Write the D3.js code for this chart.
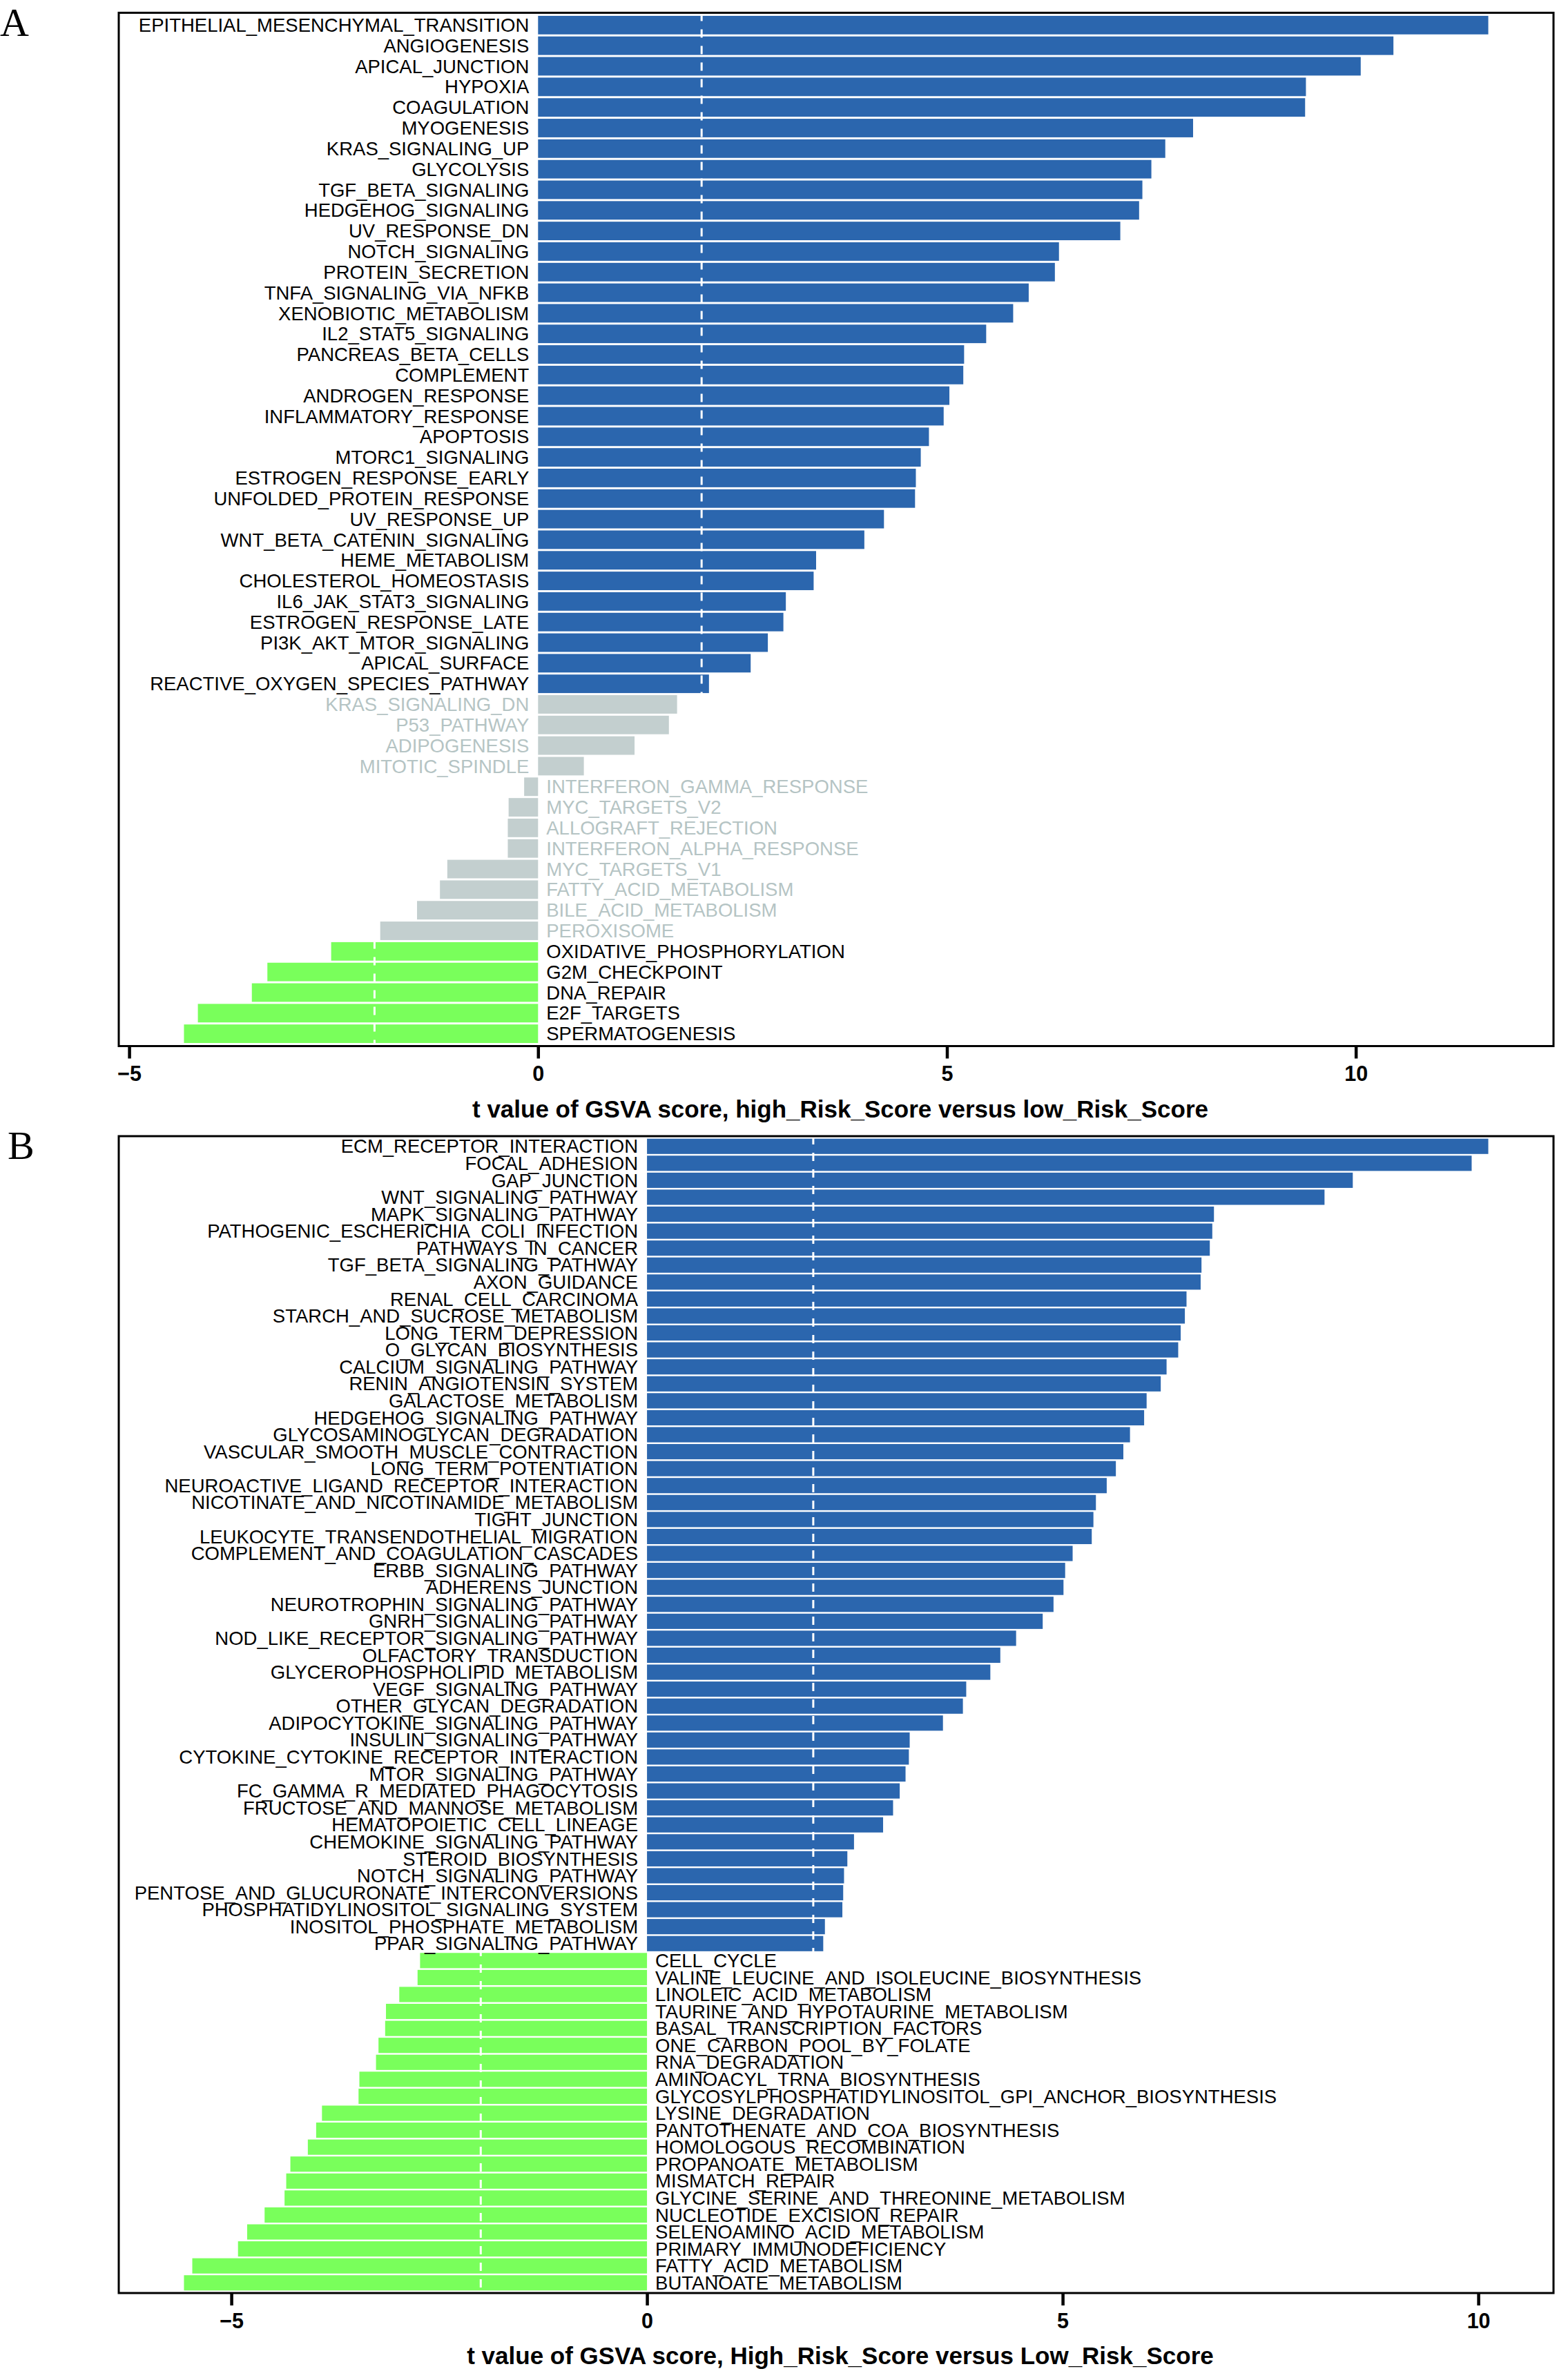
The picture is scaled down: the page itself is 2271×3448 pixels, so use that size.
<!DOCTYPE html>
<html>
<head>
<meta charset="utf-8">
<script src="https://cdn.jsdelivr.net/npm/d3@7"></script>
<style>
    body { margin: 0; background: #fff; }
    svg { display: block; }
</style>
</head>
<body>
<svg id="chart" width="2271" height="3448"></svg>
<script>
'use strict';

// ##################################################
// #                                                #
// #  Data                                          #
// #                                                #
// ##################################################

let hallmarkNames = [
    'EPITHELIAL_MESENCHYMAL_TRANSITION', 'ANGIOGENESIS', 'APICAL_JUNCTION', 'HYPOXIA',
    'COAGULATION', 'MYOGENESIS', 'KRAS_SIGNALING_UP', 'GLYCOLYSIS', 'TGF_BETA_SIGNALING',
    'HEDGEHOG_SIGNALING', 'UV_RESPONSE_DN', 'NOTCH_SIGNALING', 'PROTEIN_SECRETION',
    'TNFA_SIGNALING_VIA_NFKB', 'XENOBIOTIC_METABOLISM', 'IL2_STAT5_SIGNALING',
    'PANCREAS_BETA_CELLS', 'COMPLEMENT', 'ANDROGEN_RESPONSE', 'INFLAMMATORY_RESPONSE',
    'APOPTOSIS', 'MTORC1_SIGNALING', 'ESTROGEN_RESPONSE_EARLY', 'UNFOLDED_PROTEIN_RESPONSE',
    'UV_RESPONSE_UP', 'WNT_BETA_CATENIN_SIGNALING', 'HEME_METABOLISM', 'CHOLESTEROL_HOMEOSTASIS',
    'IL6_JAK_STAT3_SIGNALING', 'ESTROGEN_RESPONSE_LATE', 'PI3K_AKT_MTOR_SIGNALING',
    'APICAL_SURFACE', 'REACTIVE_OXYGEN_SPECIES_PATHWAY', 'KRAS_SIGNALING_DN', 'P53_PATHWAY',
    'ADIPOGENESIS', 'MITOTIC_SPINDLE', 'INTERFERON_GAMMA_RESPONSE', 'MYC_TARGETS_V2',
    'ALLOGRAFT_REJECTION', 'INTERFERON_ALPHA_RESPONSE', 'MYC_TARGETS_V1',
    'FATTY_ACID_METABOLISM', 'BILE_ACID_METABOLISM', 'PEROXISOME',
    'OXIDATIVE_PHOSPHORYLATION', 'G2M_CHECKPOINT', 'DNA_REPAIR', 'E2F_TARGETS',
    'SPERMATOGENESIS'
];

let hallmarkT = [
    11.62, 10.46, 10.06, 9.39, 9.38, 8.01, 7.67, 7.50, 7.39, 7.35,
    7.12, 6.37, 6.32, 6.00, 5.81, 5.48, 5.21, 5.20, 5.03, 4.96,
    4.78, 4.68, 4.62, 4.61, 4.23, 3.99, 3.40, 3.37, 3.03, 3.00,
    2.81, 2.60, 2.09, 1.70, 1.60, 1.18, 0.56, -0.17, -0.36, -0.37,
    -0.37, -1.11, -1.20, -1.48, -1.93, -2.53, -3.31, -3.50, -4.16, -4.33
];

let keggNames = [
    'ECM_RECEPTOR_INTERACTION', 'FOCAL_ADHESION', 'GAP_JUNCTION', 'WNT_SIGNALING_PATHWAY',
    'MAPK_SIGNALING_PATHWAY', 'PATHOGENIC_ESCHERICHIA_COLI_INFECTION', 'PATHWAYS_IN_CANCER',
    'TGF_BETA_SIGNALING_PATHWAY', 'AXON_GUIDANCE', 'RENAL_CELL_CARCINOMA',
    'STARCH_AND_SUCROSE_METABOLISM', 'LONG_TERM_DEPRESSION', 'O_GLYCAN_BIOSYNTHESIS',
    'CALCIUM_SIGNALING_PATHWAY', 'RENIN_ANGIOTENSIN_SYSTEM', 'GALACTOSE_METABOLISM',
    'HEDGEHOG_SIGNALING_PATHWAY', 'GLYCOSAMINOGLYCAN_DEGRADATION',
    'VASCULAR_SMOOTH_MUSCLE_CONTRACTION', 'LONG_TERM_POTENTIATION',
    'NEUROACTIVE_LIGAND_RECEPTOR_INTERACTION', 'NICOTINATE_AND_NICOTINAMIDE_METABOLISM',
    'TIGHT_JUNCTION', 'LEUKOCYTE_TRANSENDOTHELIAL_MIGRATION',
    'COMPLEMENT_AND_COAGULATION_CASCADES', 'ERBB_SIGNALING_PATHWAY', 'ADHERENS_JUNCTION',
    'NEUROTROPHIN_SIGNALING_PATHWAY', 'GNRH_SIGNALING_PATHWAY',
    'NOD_LIKE_RECEPTOR_SIGNALING_PATHWAY', 'OLFACTORY_TRANSDUCTION',
    'GLYCEROPHOSPHOLIPID_METABOLISM', 'VEGF_SIGNALING_PATHWAY', 'OTHER_GLYCAN_DEGRADATION',
    'ADIPOCYTOKINE_SIGNALING_PATHWAY', 'INSULIN_SIGNALING_PATHWAY',
    'CYTOKINE_CYTOKINE_RECEPTOR_INTERACTION', 'MTOR_SIGNALING_PATHWAY',
    'FC_GAMMA_R_MEDIATED_PHAGOCYTOSIS', 'FRUCTOSE_AND_MANNOSE_METABOLISM',
    'HEMATOPOIETIC_CELL_LINEAGE', 'CHEMOKINE_SIGNALING_PATHWAY', 'STEROID_BIOSYNTHESIS',
    'NOTCH_SIGNALING_PATHWAY', 'PENTOSE_AND_GLUCURONATE_INTERCONVERSIONS',
    'PHOSPHATIDYLINOSITOL_SIGNALING_SYSTEM', 'INOSITOL_PHOSPHATE_METABOLISM',
    'PPAR_SIGNALING_PATHWAY', 'CELL_CYCLE', 'VALINE_LEUCINE_AND_ISOLEUCINE_BIOSYNTHESIS',
    'LINOLEIC_ACID_METABOLISM', 'TAURINE_AND_HYPOTAURINE_METABOLISM',
    'BASAL_TRANSCRIPTION_FACTORS', 'ONE_CARBON_POOL_BY_FOLATE', 'RNA_DEGRADATION',
    'AMINOACYL_TRNA_BIOSYNTHESIS', 'GLYCOSYLPHOSPHATIDYLINOSITOL_GPI_ANCHOR_BIOSYNTHESIS',
    'LYSINE_DEGRADATION', 'PANTOTHENATE_AND_COA_BIOSYNTHESIS', 'HOMOLOGOUS_RECOMBINATION',
    'PROPANOATE_METABOLISM', 'MISMATCH_REPAIR', 'GLYCINE_SERINE_AND_THREONINE_METABOLISM',
    'NUCLEOTIDE_EXCISION_REPAIR', 'SELENOAMINO_ACID_METABOLISM', 'PRIMARY_IMMUNODEFICIENCY',
    'FATTY_ACID_METABOLISM', 'BUTANOATE_METABOLISM'
];

let keggT = [
    10.12, 9.92, 8.49, 8.15, 6.82, 6.80, 6.77, 6.67, 6.66, 6.49,
    6.47, 6.42, 6.39, 6.25, 6.18, 6.01, 5.98, 5.81, 5.73, 5.64,
    5.53, 5.40, 5.37, 5.35, 5.12, 5.03, 5.01, 4.89, 4.76, 4.44,
    4.25, 4.13, 3.84, 3.80, 3.56, 3.16, 3.15, 3.11, 3.04, 2.96,
    2.84, 2.49, 2.41, 2.37, 2.36, 2.35, 2.14, 2.12, -2.73, -2.76,
    -2.98, -3.14, -3.15, -3.23, -3.26, -3.46, -3.47, -3.91, -3.98, -4.08,
    -4.29, -4.34, -4.36, -4.60, -4.81, -4.92, -5.47, -5.57
];

let tickValues = [-5, 0, 5, 10];
let cutoffs = [-2, 2];

let titleA = 't value of GSVA score, high_Risk_Score versus low_Risk_Score';
let titleB = 't value of GSVA score, High_Risk_Score versus Low_Risk_Score';

// ##################################################
// #                                                #
// #  Panel                                         #
// #                                                #
// ##################################################

const colorUp = '#2B66AE';
const colorDown = '#79FF5B';
const colorNs = '#C3CFCF';
const textNs = '#B5C4C4';

function barColor(t) {
    if (t > 2) return colorUp;
    if (t < -2) return colorDown;
    return colorNs;
}

function drawPanel(svg, opts) {
    let rows = opts.names.map((name, i) => ({ name: name, t: opts.values[i] }));

    // ggplot style 5% expansion on the continuous axis
    let ext = d3.extent(rows, d => d.t);
    let pad = (ext[1] - ext[0]) * 0.05;
    let x = d3.scaleLinear([ext[0] - pad, ext[1] + pad], [opts.left, opts.right]);
    let y = d3.scaleBand(opts.names, [opts.top, opts.bottom])
        .paddingInner(0.1)
        .paddingOuter(0.15);

    let g = svg.append('g');

    g.selectAll('.bar')
        .data(rows)
        .enter()
        .append('rect')
        .attr('class', 'bar')
        .attr('x', d => Math.min(x(0), x(d.t)))
        .attr('y', d => y(d.name))
        .attr('width', d => Math.abs(x(d.t) - x(0)))
        .attr('height', y.bandwidth())
        .attr('fill', d => barColor(d.t));

    g.selectAll('.cut')
        .data(cutoffs)
        .enter()
        .append('line')
        .attr('class', 'cut')
        .attr('x1', d => x(d))
        .attr('x2', d => x(d))
        .attr('y1', opts.top)
        .attr('y2', opts.bottom)
        .attr('stroke', '#fff')
        .attr('stroke-width', 3)
        .attr('stroke-dasharray', '12,12');

    g.selectAll('.name')
        .data(rows)
        .enter()
        .append('text')
        .attr('class', 'name')
        .attr('x', d => d.t > 0 ? x(0) - 13 : x(0) + 12)
        .attr('y', d => y(d.name) + y.bandwidth() / 2)
        .attr('dy', '0.35em')
        .attr('text-anchor', d => d.t > 0 ? 'end' : 'start')
        .attr('font-family', '"Liberation Sans", Arial, sans-serif')
        .attr('font-size', 27.5)
        .attr('fill', d => Math.abs(d.t) < 2 ? textNs : '#000')
        .text(d => d.name);

    let axis = g.append('g')
        .attr('transform', `translate(0,${opts.bottom})`)
        .call(d3.axisBottom(x)
            .tickValues(tickValues)
            .tickSize(18)
            .tickPadding(11)
            .tickFormat(d3.format('d')));
    axis.select('.domain').remove();
    axis.selectAll('.tick line')
        .attr('stroke', '#000')
        .attr('stroke-width', 4.5);
    axis.selectAll('.tick text')
        .attr('font-family', '"Liberation Sans", Arial, sans-serif')
        .attr('font-size', 30.5)
        .attr('font-weight', 'bold')
        .attr('fill', '#000');

    g.append('rect')
        .attr('x', opts.left)
        .attr('y', opts.top)
        .attr('width', opts.right - opts.left)
        .attr('height', opts.bottom - opts.top)
        .attr('fill', 'none')
        .attr('stroke', '#000')
        .attr('stroke-width', 3);

    g.append('text')
        .attr('x', (opts.left + opts.right) / 2 + 6)
        .attr('y', opts.bottom + 103)
        .attr('text-anchor', 'middle')
        .attr('font-family', '"Liberation Sans", Arial, sans-serif')
        .attr('font-size', 35)
        .attr('font-weight', 'bold')
        .text(opts.title);

    g.append('text')
        .attr('x', opts.tagX)
        .attr('y', opts.top + 33)
        .attr('font-family', '"Liberation Serif", "Times New Roman", serif')
        .attr('font-size', 58)
        .text(opts.tag);
}

// ##################################################
// #                                                #
// #  Render                                        #
// #                                                #
// ##################################################

let svg = d3.select('#chart');

drawPanel(svg, {
    names: hallmarkNames, values: hallmarkT, title: titleA, tag: 'A', tagX: 0,
    left: 172, right: 2250, top: 18.5, bottom: 1515.5
});

drawPanel(svg, {
    names: keggNames, values: keggT, title: titleB, tag: 'B', tagX: 11,
    left: 172, right: 2250, top: 1646, bottom: 3322
});
</script>
</body>
</html>
